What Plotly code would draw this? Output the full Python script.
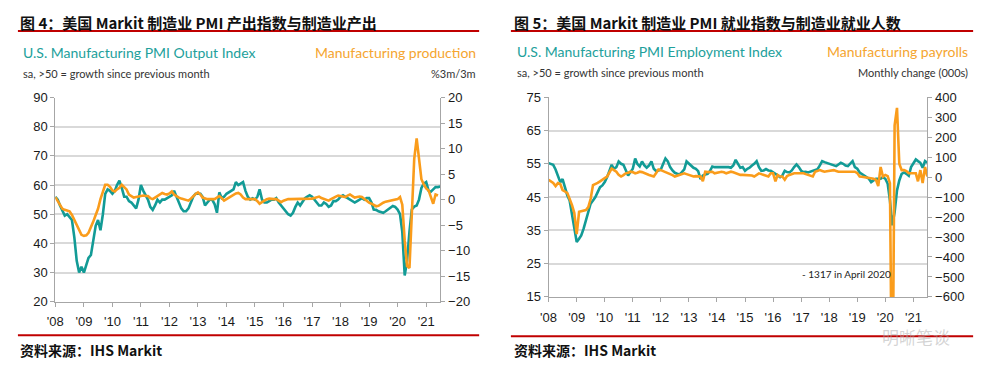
import pandas as pd
import plotly.graph_objects as go

# ---------------- data (monthly, from Jan 2008) ----------------
pmi_output = [
    56, 55, 53, 51, 49.5, 50, 49, 48, 42, 34, 30, 32,            # 2008
    30, 33, 35, 36, 41, 46, 48, 44.5, 50, 57, 58.5, 58,          # 2009
    57, 58, 60, 61.5, 59, 56, 56, 54.5, 54, 53, 52, 55,          # 2010
    60, 58, 56.5, 55, 52.5, 51.5, 53, 55, 54, 55, 55, 55.5,      # 2011
    56, 56.5, 58, 56, 53.5, 52, 51, 51, 52, 54, 56, 57,          # 2012
    57, 57, 56, 53, 54, 55, 55, 53.5, 50.5, 57.5, 55.5, 56,      # 2013
    57, 57.5, 58, 58.5, 61, 60, 60.5, 61, 58, 56, 55, 55.5,      # 2014
    55, 56, 58.5, 55, 54, 54, 54.5, 55, 55, 55.5, 54, 53,        # 2015
    52, 51, 50, 49.5, 50.5, 52.5, 54, 53, 54.5, 55.5, 56, 56.5,  # 2016
    56, 55, 54, 53, 53, 54, 53.5, 52.5, 53, 54.5, 54.5, 55,      # 2017
    56, 56.5, 56, 55.5, 55, 54.5, 54, 54.5, 55, 55.5, 55, 55.5,  # 2018
    55.5, 54, 51.6, 51.5, 51, 50.8, 50.5, 51, 51.6, 52, 52.8, 52.5,  # 2019
    51.6, 50, 44, 29, 34, 44, 51.6, 52.6, 53, 55, 59, 60.5,      # 2020
    61, 58, 57.7, 58.5, 59.3, 59.3, 59.5,                        # 2021
]
mfg_production = [
    0.5, -0.3, -1.2, -1.8, -2.0, -2.1, -2.3, -3.0, -4.0, -5.2, -6.2, -6.9,
    -7.1, -7.0, -6.5, -5.5, -4.3, -3.0, -1.8, 0.1, 1.5, 2.9, 2.9, 2.5,
    1.8, 1.6, 2.0, 2.3, 2.9, 2.5, 2.0, 1.0, 0.7, 0.4, 0.5, 0.6,
    0.7, 0.8, 0.7, 0.7, 0.3, 0.1, 0.4, 0.7, 1.0, 1.3, 1.1, 1.0,
    1.2, 1.6, 1.0, 0.6, 0.4, 0.2, 0.1, -0.1, -0.2, 0.2, 0.7, 1.1,
    1.4, 1.0, 0.4, 0.2, 0.1, 0.1, 0.1, 0.1, 0.4, 0.7, 0.3, -0.2,
    0.1, 0.4, 0.6, 1.0, 1.2, 1.3, 1.0, 0.4, 0.1, 0.1, 0.1, 0.0,
    0.1, -0.3, -0.8, -0.5, -0.2, 0.1, 0.2, 0.1, 0.1, 0.1, -0.3, -0.5,
    -0.2, 0.0, 0.1, 0.1, 0.1, 0.1, 0.1, 0.2, 0.2, 0.2, 0.2, 0.2,
    0.2, 0.3, 0.4, 0.6, 0.3, 0.1, -0.1, -0.2, 0.1, 0.4, 0.6, 0.8,
    0.7, 0.6, 0.5, 0.8, 1.0, 0.7, 0.4, 0.5, 0.6, 0.5, 0.1, -0.2,
    -0.6, -0.8, -1.0, -1.3, -1.2, -0.8, -0.6, -0.4, -0.3, -0.2, -0.2, -0.1,
    0.1, 0.5, -1.0, -8.0, -13.0, -13.4, -3.7, 8.0, 12.0, 8.0, 4.0, 3.0,
    2.2, 1.8, 0.5, -0.8, 1.0, 0.8,
]
pmi_employment = [
    55.2, 55, 54.7, 53.3, 51.5, 49.5, 50.4, 47.5, 45.5, 44, 40, 35,
    31.5, 32.5, 33.5, 35.5, 38, 40.5, 43, 44, 45, 46.5, 48, 48.5,
    49.5, 51, 52.5, 54.7, 53.5, 54, 55.7, 55, 54.7, 53, 51.5, 52.5,
    53.5, 56.6, 55, 54.2, 55.7, 54.5, 53.8, 54.5, 55.7, 53.5, 52.8, 53,
    53.3, 55, 56.6, 55.7, 54, 53, 52.3, 52, 51.8, 52.5, 53.3, 55.7,
    55, 54.5, 53.8, 53.5, 52.8, 50.4, 51.5, 51.8, 52, 52.8, 54.2, 54,
    54, 54.2, 54, 54, 54.2, 54, 53.8, 54.5, 56.2, 55, 53.8, 54,
    52.9, 53.5, 53.8, 54.5, 55, 55.8, 54, 52.9, 53, 53.4, 53, 52.9,
    52.5, 51.9, 51.5, 51, 51.5, 52.9, 52.5, 52.4, 53, 54, 54.8, 54,
    52.9, 52.5, 52.6, 52.4, 52.6, 52.9, 53, 53.4, 54.5, 55.8, 55.5, 55.3,
    55, 54.8, 54.5, 54.3, 54.8, 55.3, 55, 54.5, 54.3, 55, 55.8, 54,
    53.5, 52.4, 52, 51.5, 51, 50.5, 49.5, 50, 50.5, 50.5, 50.5, 51,
    50.5, 49, 44, 36.5, 40.4, 47, 50, 52, 52.4, 52, 51.4, 54,
    55, 56.3, 55.8, 55.3, 53.8, 55.8, 55.3,
]
mfg_payrolls = [
    -13, -20, -29, -45, -30, -35, -65, -72, -80, -110, -140, -180,
    -286, -174, -170, -166, -165, -150, -110, -40, -35, -29, -21, -15,
    -5, 3, 19, 43, 35, 27, 11, 3, 10, 19, 22, 27,
    25, 19, 22, 27, 25, 19, 15, 11, 7, 3, 20, 38,
    35, 30, 27, 22, 19, 10, 3, 7, 11, 15, 19, 15,
    11, 7, 3, 5, 3, 3, -21, 27, 25, 27, 27, 19,
    22, 23, 27, 24, 19, 23, 27, 24, 19, 15, 11, 11,
    11, 11, 11, 8, 3, 10, 19, 15, 11, 5, 3, 19,
    19, -21, 11, 3, 3, -13, 5, 11, 15, 19, 19, 19,
    19, 19, 15, 11, 5, 3, 27, 30, 35, 31, 27, 29,
    31, 33, 35, 31, 27, 27, 27, 27, 27, 27, 27, 27,
    20, 3, 2, 0, -2, -5, -5, -8, -13, -45, 51, 3,
    11, 5, -30, -1317, 259, 347, 67, 35, 35, 30, 19, 19,
    19, 19, -21, 35, -30, 51, 3,
]
year_labels = ["'08", "'09", "'10", "'11", "'12", "'13", "'14",
               "'15", "'16", "'17", "'18", "'19", "'20", "'21"]
left_y_ticks_a = [20, 30, 40, 50, 60, 70, 80, 90]
right_y_ticks_a = [-20, -15, -10, -5, 0, 5, 10, 15, 20]
left_y_ticks_b = [15, 25, 35, 45, 55, 65, 75]
right_y_ticks_b = [-600, -500, -400, -300, -200, -100, 0, 100, 200, 300, 400]

def months(n):
    return pd.date_range("2008-01-01", periods=n, freq="MS")

year_ticks = pd.date_range("2008-01-01", periods=len(year_labels), freq="YS")

TEAL = "#129b96"
ORANGE = "#fa9c1b"
AXIS = "#a6a6a6"
GRID = "#d9d9d9"
TICKFONT = dict(family="Liberation Sans, Arial, sans-serif", size=13, color="#1a1a1a")

W, H = 988, 375
def px(x):
    return x / W
def py(y):
    return 1 - y / H

fig = go.Figure()
fig.add_trace(go.Scatter(x=months(len(pmi_output)), y=pmi_output, mode="lines",
                         line=dict(color=TEAL, width=2.6), xaxis="x", yaxis="y"))
fig.add_trace(go.Scatter(x=months(len(mfg_production)), y=mfg_production, mode="lines",
                         line=dict(color=ORANGE, width=2.6), xaxis="x", yaxis="y2"))
fig.add_trace(go.Scatter(x=months(len(pmi_employment)), y=pmi_employment, mode="lines",
                         line=dict(color=TEAL, width=2.6), xaxis="x2", yaxis="y3"))
fig.add_trace(go.Scatter(x=months(len(mfg_payrolls)), y=mfg_payrolls, mode="lines",
                         line=dict(color=ORANGE, width=2.6), xaxis="x2", yaxis="y4"))

xcommon = dict(type="date", tickmode="array", tickvals=year_ticks, ticktext=year_labels,
               showgrid=False, showline=True, linecolor=AXIS, linewidth=1,
               ticks="outside", ticklen=4, tickcolor=AXIS, tickfont=TICKFONT,
               ticklabelstandoff=4, zeroline=False)
ycommon = dict(showline=True, linecolor=AXIS, linewidth=1, ticks="outside", ticklen=4,
               tickcolor=AXIS, tickfont=TICKFONT, zeroline=False, tickmode="array")

fig.update_layout(
    width=W, height=H, margin=dict(l=0, r=0, t=0, b=0),
    paper_bgcolor="white", plot_bgcolor="white", showlegend=False,
    xaxis=dict(domain=[px(47.7), px(436)], anchor="y",
               range=["2008-01-01", "2021-07-03"], **xcommon),
    yaxis=dict(domain=[py(307), py(94.3)], anchor="x", range=[20, 90],
               tickvals=left_y_ticks_a, showgrid=True, gridcolor=GRID, gridwidth=1.5,
               **ycommon),
    yaxis2=dict(overlaying="y", side="right", anchor="x", range=[-20, 20],
                tickvals=right_y_ticks_a, showgrid=False, **ycommon),
    xaxis2=dict(domain=[px(545), px(927)], anchor="y3",
                range=["2008-01-01", "2021-07-03"], **xcommon),
    yaxis3=dict(domain=[py(302), py(94)], anchor="x2", range=[15, 75],
                tickvals=left_y_ticks_b, showgrid=True, gridcolor=GRID, gridwidth=1.5,
                **ycommon),
    yaxis4=dict(overlaying="y3", side="right", anchor="x2", range=[-600, 400],
                tickvals=right_y_ticks_b, showgrid=False, **ycommon),
)

RED = "#c00000"
shapes = []
for x0, x1, y in [(10, 475, 25), (507, 973, 25), (10, 475, 342), (507, 973, 343)]:
    shapes.append(dict(type="line", xref="paper", yref="paper",
                       x0=px(x0), x1=px(x1), y0=py(y), y1=py(y),
                       line=dict(color=RED, width=2)))
fig.update_layout(shapes=shapes)

CJK = "Noto Sans CJK SC, sans-serif"
SUB = "Lato, sans-serif"
notes = [
    # text, x, y, anchor, font
    ("<b>图 4：美国 Markit 制造业 PMI 产出指数与制造业产出</b>", 10, 16, "left",
     dict(family=CJK, size=15, color="#111111")),
    ("<b>图 5：美国 Markit 制造业 PMI 就业指数与制造业就业人数</b>", 508, 16, "left",
     dict(family=CJK, size=15, color="#111111")),
    ("U.S. Manufacturing PMI Output Index", 13, 47, "left",
     dict(family=SUB, size=14, color="#22a09b")),
    ("Manufacturing production", 474, 47, "right",
     dict(family=SUB, size=14, color="#f5a52f")),
    ("sa, >50 = growth since previous month", 13, 69, "left",
     dict(family=SUB, size=11, color="#333333")),
    ("%3m/3m", 474, 69, "right", dict(family=SUB, size=11, color="#333333")),
    ("U.S. Manufacturing PMI Employment Index", 511, 46.5, "left",
     dict(family=SUB, size=14, color="#22a09b")),
    ("Manufacturing payrolls", 970, 46.5, "right",
     dict(family=SUB, size=14, color="#f5a52f")),
    ("sa, >50 = growth since previous month", 511, 68, "left",
     dict(family=SUB, size=11, color="#333333")),
    ("Monthly change (000s)", 970, 68, "right",
     dict(family=SUB, size=11, color="#333333")),
    ("- 1317 in April 2020", 845, 278, "center",
     dict(family=SUB, size=10, color="#222222")),
    ("<b>资料来源：IHS Markit</b>", 10, 357, "left", dict(family=CJK, size=14, color="#111111")),
    ("<b>资料来源：IHS Markit</b>", 508, 357, "left", dict(family=CJK, size=14, color="#111111")),
    ("明晰笔谈", 915, 343, "center", dict(family=CJK, size=17, color="rgba(170,170,170,0.5)")),
]
for text, x, y, anchor, font in notes:
    fig.add_annotation(text=text, xref="paper", yref="paper", x=px(x), y=py(y),
                       xanchor=anchor, yanchor="middle", showarrow=False, font=font)

fig.write_html("out.html", config={"displayModeBar": False},
               post_script="document.body.style.margin='0';")
